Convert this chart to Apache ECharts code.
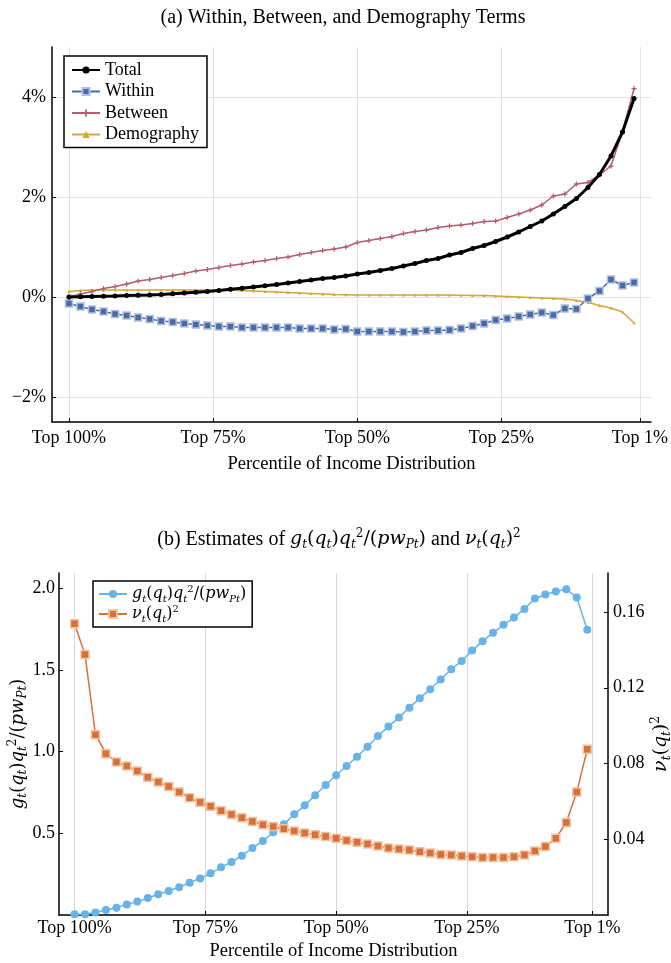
<!DOCTYPE html>
<html>
<head>
<meta charset="utf-8">
<script src="https://cdn.jsdelivr.net/npm/echarts@6/dist/echarts.min.js"></script>
<style>
  html, body { margin: 0; padding: 0; background: #fff; }
  #chart { width: 671px; height: 963px; }
</style>
</head>
<body>
<div id="chart"></div>
<script>
// percentile of each estimate (Top p%)
const pct = [100, 98, 96, 94, 92, 90, 88, 86, 84, 82,
  80, 78, 76, 74, 72, 70, 68, 66, 64, 62,
  60, 58, 56, 54, 52, 50, 48, 46, 44, 42,
  40, 38, 36, 34, 32, 30, 28, 26, 24, 22,
  20, 18, 16, 14, 12, 10, 8, 6, 4, 2]

// panel (a), in percent
const total = [0.00, 0.005, 0.01, 0.015, 0.02, 0.03, 0.035, 0.04, 0.05, 0.065,
  0.08, 0.095, 0.11, 0.13, 0.155, 0.175, 0.2, 0.225, 0.25, 0.28,
  0.31, 0.34, 0.37, 0.39, 0.42, 0.46, 0.49, 0.53, 0.57, 0.62,
  0.67, 0.73, 0.77, 0.84, 0.89, 0.97, 1.03, 1.11, 1.2, 1.3,
  1.41, 1.52, 1.66, 1.81, 1.97, 2.19, 2.45, 2.82, 3.3, 3.97]
const within = [-0.13, -0.19, -0.25, -0.29, -0.34, -0.37, -0.41, -0.44, -0.48, -0.5,
  -0.53, -0.55, -0.57, -0.59, -0.59, -0.61, -0.61, -0.61, -0.61, -0.61,
  -0.63, -0.63, -0.63, -0.65, -0.64, -0.69, -0.69, -0.69, -0.69, -0.7,
  -0.69, -0.67, -0.67, -0.66, -0.63, -0.58, -0.53, -0.46, -0.43, -0.39,
  -0.35, -0.31, -0.36, -0.23, -0.24, -0.03, 0.12, 0.35, 0.23, 0.29]
const between = [0.0, 0.06, 0.11, 0.17, 0.21, 0.26, 0.32, 0.35, 0.39, 0.43,
  0.47, 0.52, 0.55, 0.59, 0.63, 0.66, 0.7, 0.73, 0.77, 0.8,
  0.85, 0.89, 0.93, 0.96, 1.0, 1.09, 1.13, 1.17, 1.21, 1.27,
  1.31, 1.34, 1.39, 1.42, 1.44, 1.47, 1.51, 1.52, 1.59, 1.66,
  1.74, 1.84, 2.02, 2.06, 2.26, 2.29, 2.44, 2.62, 3.31, 4.17]
const demography = [0.11, 0.13, 0.14, 0.14, 0.14, 0.14, 0.14, 0.14, 0.14, 0.14,
  0.14, 0.14, 0.14, 0.14, 0.135, 0.13, 0.12, 0.11, 0.1, 0.09,
  0.08, 0.07, 0.06, 0.05, 0.045, 0.04, 0.04, 0.04, 0.04, 0.04,
  0.04, 0.04, 0.04, 0.04, 0.035, 0.03, 0.03, 0.02, 0.01, 0.0,
  -0.01, -0.02, -0.03, -0.04, -0.07, -0.11, -0.17, -0.22, -0.3, -0.52]

// panel (b)
const gRatio = [0.004, 0.004, 0.016, 0.03, 0.045, 0.065, 0.082, 0.104, 0.127, 0.147,
  0.17, 0.198, 0.224, 0.255, 0.292, 0.324, 0.363, 0.41, 0.453, 0.506,
  0.555, 0.616, 0.671, 0.733, 0.796, 0.855, 0.912, 0.969, 1.03, 1.096,
  1.153, 1.208, 1.269, 1.327, 1.382, 1.441, 1.504, 1.555, 1.618, 1.676,
  1.727, 1.776, 1.82, 1.873, 1.937, 1.961, 1.98, 1.994, 1.943, 1.745]
const nuSq = [0.1538, 0.1376, 0.0952, 0.0852, 0.0808, 0.0787, 0.076, 0.0727, 0.0702, 0.0679,
  0.0649, 0.0619, 0.0595, 0.0574, 0.0551, 0.0531, 0.0514, 0.0494, 0.0477, 0.0468,
  0.0456, 0.0443, 0.0433, 0.0424, 0.0415, 0.0405, 0.0394, 0.0384, 0.0375, 0.0364,
  0.0354, 0.0348, 0.0343, 0.0334, 0.0327, 0.032, 0.0317, 0.0311, 0.0308, 0.0304,
  0.0304, 0.0304, 0.0308, 0.0317, 0.0338, 0.0362, 0.0405, 0.0489, 0.0649, 0.0875]

const xTicks = [100, 75, 50, 25, 1]
const yTicksA = [-2, 0, 2, 4]
const yTicksB = [0.5, 1.0, 1.5, 2.0]
const yTicksB2 = [0.04, 0.08, 0.12, 0.16]

const serif = 'Liberation Serif'
const mathFont = 'DejaVu Serif'
const pair = arr => arr.map((v, i) => [pct[i], v])

// rich styles for the math labels, at a given body size
function mathRich(size, textSize) {
  const small = Math.round(size * 0.64)
  return {
    i: { fontFamily: mathFont, fontStyle: 'italic', fontSize: size, lineHeight: size + 4 },
    s: { fontFamily: mathFont, fontStyle: 'italic', fontSize: small, lineHeight: small, verticalAlign: 'bottom' },
    sp: { fontFamily: mathFont, fontSize: small, lineHeight: small, verticalAlign: 'top' },
    m: { fontFamily: mathFont, fontSize: size, lineHeight: size + 4 },
    n: { fontFamily: serif, fontSize: textSize || size, lineHeight: size + 4 }
  }
}
const gLabel = '{i|g}{s|t}{m|(}{i|q}{s|t}{m|)}{i|q}{s|t}{sp|2}{m|/(}{i|pw}{s|Pt}{m|)}'
const nuLabel = '{i|ν}{s|t}{m|(}{i|q}{s|t}{m|)}{sp|2}'

const axisCommon = {
  axisLine: { lineStyle: { color: '#000', width: 1.5 } },
  axisTick: { inside: true, length: 4, lineStyle: { color: '#000' } },
  axisLabel: { color: '#000', fontFamily: serif, fontSize: 18 }
}
const nameStyle = { fontFamily: serif, fontSize: 18.5, color: '#000' }

const chart = echarts.init(document.getElementById('chart'))
chart.setOption({
  backgroundColor: '#fff',
  animation: false,
  textStyle: { fontFamily: serif },
  title: [{
    text: '(a) Within, Between, and Demography Terms',
    left: 338, top: 3, textAlign: 'center',
    textStyle: { fontFamily: serif, fontSize: 20, fontWeight: 'normal', color: '#000' }
  }, {
    text: '{n|(b) Estimates of }' + gLabel + '{n| and }' + nuLabel,
    left: 334, top: 523, textAlign: 'center',
    textStyle: { fontFamily: serif, fontSize: 20, fontWeight: 'normal', color: '#000', rich: mathRich(19, 20) }
  }],
  legend: [{
    data: ['Total', 'Within', 'Between', 'Demography'],
    orient: 'vertical', left: 64, top: 56,
    padding: [4, 8, 3, 7], itemGap: 1.5, itemWidth: 28, itemHeight: 9,
    borderColor: '#000', borderWidth: 1.5, borderRadius: 0, backgroundColor: '#fff',
    textStyle: { fontFamily: serif, fontSize: 18, color: '#000', lineHeight: 20 }
  }, {
    data: ['g', 'nu'],
    orient: 'vertical', left: 93, top: 581,
    padding: [3, 6, 3, 5], itemGap: 0, itemWidth: 28, itemHeight: 10,
    borderColor: '#000', borderWidth: 1.5, borderRadius: 0, backgroundColor: '#fff',
    formatter: name => name === 'g' ? gLabel : nuLabel,
    textStyle: { fontFamily: serif, fontSize: 16, color: '#000', rich: mathRich(16) }
  }],
  grid: [
    { left: 52, top: 47, width: 599, height: 375, outerBoundsMode: 'none' },
    { left: 59, top: 573, width: 549, height: 342, outerBoundsMode: 'none' }
  ],
  xAxis: [{
    gridIndex: 0, type: 'value', inverse: true, min: -0.94, max: 102.94,
    name: 'Percentile of Income Distribution', nameLocation: 'middle', nameGap: 33,
    nameTextStyle: nameStyle,
    ...axisCommon,
    axisLine: { onZero: false, lineStyle: { color: '#000', width: 1.5 } },
    axisTick: { ...axisCommon.axisTick, customValues: xTicks },
    axisLabel: { ...axisCommon.axisLabel, margin: 7, customValues: xTicks, formatter: v => 'Top ' + v + '%' },
    splitLine: { show: true, lineStyle: { color: '#e3e3e3', width: 1 } }
  }, {
    gridIndex: 1, type: 'value', inverse: true, min: -1.97, max: 102.97,
    name: 'Percentile of Income Distribution', nameLocation: 'middle', nameGap: 27,
    nameTextStyle: nameStyle,
    ...axisCommon,
    axisLine: { onZero: false, lineStyle: { color: '#000', width: 1.5 } },
    axisTick: { ...axisCommon.axisTick, customValues: xTicks },
    axisLabel: { ...axisCommon.axisLabel, margin: 4, customValues: xTicks, formatter: v => 'Top ' + v + '%' },
    splitLine: { show: true, lineStyle: { color: '#d4d4d4', width: 1 } }
  }],
  yAxis: [{
    gridIndex: 0, type: 'value', min: -2.5, max: 5.0,
    ...axisCommon,
    axisLine: { show: true, onZero: false, lineStyle: { color: '#000', width: 1.5 } },
    axisTick: { ...axisCommon.axisTick, show: true, customValues: yTicksA },
    axisLabel: { ...axisCommon.axisLabel, margin: 6, customValues: yTicksA, formatter: v => (v < 0 ? '−' + (-v) : v) + '%' },
    splitLine: { show: true, lineStyle: { color: '#e3e3e3', width: 1 } }
  }, {
    gridIndex: 1, type: 'value', min: 0, max: 2.093,
    name: gLabel, nameLocation: 'middle', nameGap: 30, nameRotate: 90, nameMoveOverlap: false,
    nameTextStyle: { color: '#000', rich: mathRich(18) },
    ...axisCommon,
    axisLine: { show: true, onZero: false, lineStyle: { color: '#000', width: 1.5 } },
    axisTick: { ...axisCommon.axisTick, show: true, customValues: yTicksB },
    axisLabel: { ...axisCommon.axisLabel, margin: 4, customValues: yTicksB, formatter: v => v.toFixed(1) },
    splitLine: { show: false }
  }, {
    gridIndex: 1, type: 'value', position: 'right', min: 0, max: 0.1806,
    name: nuLabel, nameLocation: 'middle', nameGap: 42, nameRotate: 90, nameMoveOverlap: false,
    nameTextStyle: { color: '#000', rich: mathRich(19) },
    ...axisCommon,
    axisLine: { show: true, onZero: false, lineStyle: { color: '#000', width: 1.5 } },
    axisTick: { ...axisCommon.axisTick, show: true, customValues: yTicksB2 },
    axisLabel: { ...axisCommon.axisLabel, margin: 5, customValues: yTicksB2, formatter: v => v.toFixed(2) },
    splitLine: { show: false }
  }],
  series: [{
    name: 'Demography', type: 'line', xAxisIndex: 0, yAxisIndex: 0,
    data: pair(demography), symbol: 'triangle', symbolSize: 3,
    itemStyle: { color: '#d4a535' }, lineStyle: { color: '#d4a535', width: 1.5 }, z: 2
  }, {
    name: 'Within', type: 'line', xAxisIndex: 0, yAxisIndex: 0,
    data: pair(within), symbol: 'rect', symbolSize: 7,
    itemStyle: { color: '#4a6aa7', borderColor: '#b0c0de', borderWidth: 1.5 },
    lineStyle: { color: '#4a6aa7', width: 1.5 }, z: 3
  }, {
    name: 'Between', type: 'line', xAxisIndex: 0, yAxisIndex: 0,
    data: pair(between), symbol: 'path://M3,0H5V3H8V5H5V8H3V5H0V3H3Z', symbolSize: 5,
    itemStyle: { color: '#b45c70' }, lineStyle: { color: '#b45c70', width: 1.5 }, z: 4
  }, {
    name: 'Total', type: 'line', xAxisIndex: 0, yAxisIndex: 0,
    data: pair(total), symbol: 'circle', symbolSize: 5,
    itemStyle: { color: '#000' }, lineStyle: { color: '#000', width: 3 }, z: 5
  }, {
    name: 'g', type: 'line', xAxisIndex: 1, yAxisIndex: 1,
    data: pair(gRatio), symbol: 'circle', symbolSize: 8,
    itemStyle: { color: '#67b3e7' }, lineStyle: { color: '#67b3e7', width: 1.5 }
  }, {
    name: 'nu', type: 'line', xAxisIndex: 1, yAxisIndex: 2,
    data: pair(nuSq), symbol: 'rect', symbolSize: 8,
    itemStyle: { color: '#d6713a', borderColor: '#f2c3a2', borderWidth: 1.5 },
    lineStyle: { color: '#d6713a', width: 1.5 }
  }]
})
</script>
</body>
</html>
